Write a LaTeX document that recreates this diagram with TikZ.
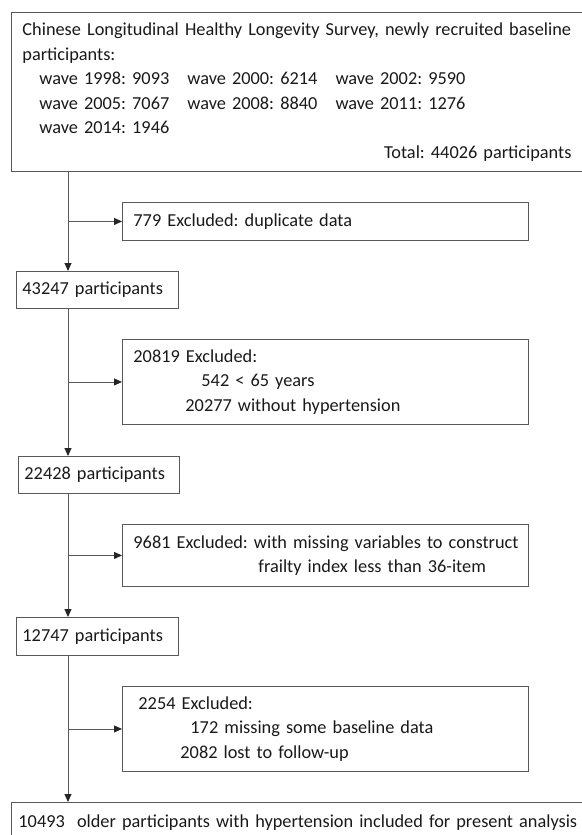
\documentclass[tikz,border=0pt]{standalone}
\usepackage{fontspec}
\setmainfont{Carlito}
\usetikzlibrary{arrows.meta}
\frenchspacing
\begin{document}
\begin{tikzpicture}[x=1pt,y=-1pt,
  box/.style={draw=black!65, line width=0.9pt, align=left, anchor=north west,
    inner ysep=0pt, font=\fontsize{18.3}{24.5}\selectfont, text=black!90},
  arr/.style={draw=black!65, line width=0.9pt,
    -{Triangle[length=8pt,width=7pt,fill=black!85,color=black!85]}}]
\useasboundingbox (0,0) rectangle (581,835);

\node[box, text width=549pt, inner xsep=11pt, minimum height=159pt] (top) at (11,12) {%
\mbox{Chinese Longitudinal Healthy Longevity Survey, newly recruited baseline}\\
participants:\\
\hspace*{17pt}\makebox[148pt][l]{wave 1998: 9093}\makebox[148pt][l]{wave 2000: 6214}wave 2002: 9590\\
\hspace*{17pt}\makebox[148pt][l]{wave 2005: 7067}\makebox[148pt][l]{wave 2008: 8840}wave 2011: 1276\\
\hspace*{17pt}wave 2014: 1946\\
\makebox[549pt][r]{Total: 44026 participants}};

\node[box, text width=384pt, inner xsep=11pt, minimum height=38pt] (e1) at (122,202)
  {779 Excluded: duplicate data};

\node[box, text width=150pt, inner xsep=6pt, minimum height=37pt] (n1) at (16,271)
  {43247 participants};

\node[box, text width=384pt, inner xsep=11pt, minimum height=85pt] (e2) at (122,339) {%
20819 Excluded:\\
\hspace*{68pt}542 < 65 years\\
\hspace*{52pt}20277 without hypertension};

\node[box, text width=149pt, inner xsep=6pt, minimum height=37pt] (n2) at (18,456)
  {22428 participants};

\node[box, text width=384pt, inner xsep=11pt, minimum height=62pt] (e3) at (122,524) {%
\mbox{9681 Excluded: with missing variables to construct}\\
\hspace*{125pt}frailty index less than 36-item};

\node[box, text width=150pt, inner xsep=6pt, minimum height=38pt] (n3) at (16,617)
  {12747 participants};

\node[box, text width=374pt, inner xsep=16pt, minimum height=85pt] (e4) at (122,686) {%
2254 Excluded:\\
\hspace*{52pt}172 missing some baseline data\\
\hspace*{42pt}2082 lost to follow-up};

\node[box, text width=566pt, inner xsep=7pt, minimum height=40pt] (fin) at (11,802)
  {\mbox{10493\ \ older participants with hypertension included for present analysis}};

\coordinate (tx) at (68,0);
\draw[arr] (top.south -| tx) -- (n1.north -| tx);
\draw[arr] (e1.west -| tx) -- (e1.west);
\draw[arr] (n1.south -| tx) -- (n2.north -| tx);
\draw[arr] (e2.west -| tx) -- (e2.west);
\draw[arr] (n2.south -| tx) -- (n3.north -| tx);
\draw[arr] (e3.west -| tx) -- (e3.west);
\draw[arr] (n3.south -| tx) -- (fin.north -| tx);
\draw[arr] (e4.west -| tx) -- (e4.west);
\end{tikzpicture}
\end{document}
